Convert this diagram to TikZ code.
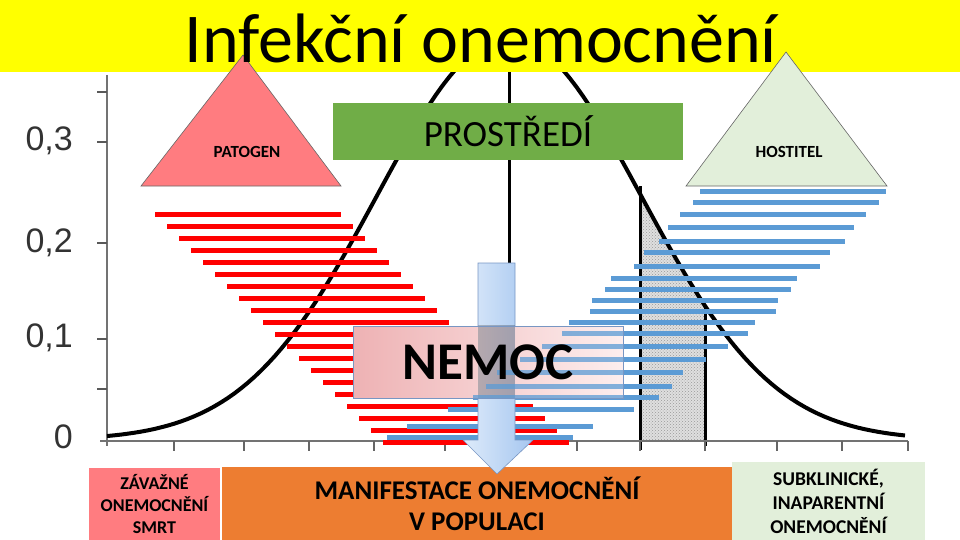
\documentclass[tikz,border=0pt]{standalone}
\usepackage{fontspec}
\setmainfont{Carlito}
\newfontfamily\axisfont{Liberation Sans}
\usepackage{tikz}
\usetikzlibrary{positioning, patterns}

\definecolor{titleyellow}{RGB}{255,255,0}
\definecolor{envgreen}{RGB}{112,173,71}
\definecolor{patred}{RGB}{255,124,128}
\definecolor{hostgreen}{RGB}{226,239,218}
\definecolor{barred}{RGB}{255,0,0}
\definecolor{barblue}{RGB}{91,155,213}
\definecolor{manorange}{RGB}{237,125,49}
\definecolor{edgeblue}{RGB}{120,150,195}

\tikzset{
  redbar/.style={draw=barred, line width=5pt},
  bluebar/.style={draw=barblue, line width=5pt},
  axisline/.style={draw=black!55, line width=2pt},
  tri/.style={draw=black!60, line width=0.6pt},
  bottombox/.style={inner sep=0pt, align=center, font=\bfseries\fontsize{18}{22}\selectfont},
  arrowfill/.style={left color={rgb,255:red,222;green,235;blue,250}, right color={rgb,255:red,165;green,198;blue,240}},
}
\newcommand{\subcases}{700/191, 693/202, 680/214, 668/227, 659/241, 644/252, 634/266,
  611/278, 605/289, 592/300, 590/311, 569/322, 562/333, 542/346,
  520/359, 497/372, 486/386, 473/397, 448/409, 407/426, 387/437}

\begin{document}
\begin{tikzpicture}[x=1pt, y=-1pt]
\useasboundingbox (0,0) rectangle (960,540);

% Shaded tail under the curve
\fill[gray!25] (640,441) -- plot[domain=640:705, samples=20] (\x,{440-402*exp(-((\x-509)/100)^2/3.5)}) -- (705,441) -- cycle;
\fill[pattern=crosshatch dots, pattern color=gray!80] (640,441) -- plot[domain=640:705, samples=20] (\x,{440-402*exp(-((\x-509)/100)^2/3.5)}) -- (705,441) -- cycle;
\draw[line width=3pt] (640,186) -- (640,450);
\draw[line width=3pt] (705,305) -- (705,446);

% Axes
\draw[axisline] (107,75) -- (107,446);
\draw[axisline] (100,441) -- (908,441);
\foreach \t in {92,142,243,339,389}
  \draw[black!65, line width=2pt] (97,\t) -- (107,\t);
\foreach \t in {174,244,309,374,445,577,640,705,777,842,908}
  \draw[black!60, line width=1.5pt] (\t,441) -- (\t,451);
\foreach \v/\p in {{0,3}/141, {0,2}/243, {0,1}/338, 0/437}
  \node[anchor=east, inner sep=0pt, text=black!80, font=\axisfont\fontsize{34}{34}\selectfont] at (73,\p) {\v};

% Bell curve
\draw[line width=4pt, line join=round] plot[domain=107:905, samples=120] (\x,{440-402*exp(-((\x-509)/100)^2/3.5)});
\draw[line width=3pt] (509,72) -- (509,441);

% Title band
\fill[titleyellow] (0,0) rectangle (960,72);

% Severe cases
\foreach \i in {0,...,19}
  \draw[redbar] ({155+12*\i},{214+12*\i}) -- ++(186,0);

% Subclinical cases
\foreach \s/\h in \subcases
  \draw[bluebar] (\s,\h) -- ++(186,0);

% Bottom boxes
\node[bottombox, fill=patred, minimum width=131pt, minimum height=72pt] (zavazne) at (154.5,504) {ZÁVAŽNÉ\\ONEMOCNĚNÍ\\SMRT};
\node[bottombox, fill=manorange, minimum width=510pt, minimum height=75pt,
      font=\bfseries\fontsize{27}{31}\selectfont] (manifest) at (477,504) {MANIFESTACE ONEMOCNĚNÍ\\V POPULACI};
\node[bottombox, fill=hostgreen, minimum width=193pt, minimum height=79pt,
      font=\bfseries\fontsize{19.5}{24}\selectfont] (subklin) at (828.5,501) {SUBKLINICKÉ,\\INAPARENTNÍ\\ONEMOCNĚNÍ};

% Arrow down to the population
\draw[edgeblue, line width=0.6pt, arrowfill]
  (478,263) -- (515,263) -- (515,440) -- (533,440) -- (497,474) -- (463,440) -- (478,440) -- cycle;

% Disease box, lighter towards the right
\node[minimum width=270pt, minimum height=72pt, inner sep=0pt,
      left color={rgb,255:red,238;green,178;blue,180}, right color={rgb,255:red,253;green,238;blue,238}] (nemoc) at (488,362) {};
\begin{scope}
  \clip (nemoc.south west) rectangle (nemoc.north east);
  \fill[arrowfill, opacity=0.35] (478,263) rectangle (515,440);
  \foreach \s/\h in \subcases
    \draw[bluebar, opacity=0.75] (\s,\h) -- ++(186,0);
\end{scope}
\draw[edgeblue, line width=0.6pt] (nemoc.south west) rectangle (nemoc.north east);
\node[font=\bfseries\fontsize{53}{53}\selectfont] (nemoctext) at (nemoc) {NEMOC};

% Triangle of factors
\draw[tri, fill=patred] (141,186) -- (243,55) -- (341,186) -- cycle;
\node[font=\bfseries\fontsize{17}{17}\selectfont] (patogen) at (247,152) {PATOGEN};
\draw[tri, fill=hostgreen] (686,186) -- (786,52) -- (887,186) -- cycle;
\node[font=\bfseries\fontsize{17}{17}\selectfont] (hostitel) at (789,152) {HOSTITEL};
\node[fill=envgreen, minimum width=350pt, minimum height=57pt, inner sep=0pt,
      font=\fontsize{37}{37}\selectfont] (prostredi) at (508,131.5) {PROSTŘEDÍ};

% Title
\node[anchor=base, inner sep=0pt, font=\fontsize{70}{84}\selectfont] (title) at (481,63) {Infekční onemocnění};
\end{tikzpicture}
\end{document}
